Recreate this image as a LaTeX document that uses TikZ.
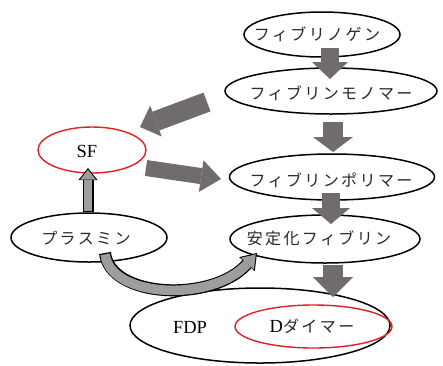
\documentclass[tikz,border=0pt]{standalone}
\usepackage{fontspec}
\setmainfont{Liberation Serif}
\newfontfamily\jp[LetterSpace=15]{Noto Sans CJK JP}
\usetikzlibrary{arrows.meta,shapes.geometric}
\definecolor{blkgray}{RGB}{112,108,107}
\definecolor{lgray}{RGB}{158,156,156}
\definecolor{redl}{RGB}{230,30,35}
\definecolor{txt}{RGB}{40,40,40}
\begin{document}
\begin{tikzpicture}[x=1pt,y=-1pt,
  ell/.style={draw=black, line width=1.5pt, ellipse, inner sep=0pt},
  rell/.style={draw=redl, line width=1.4pt, ellipse, inner sep=0pt},
  jtxt/.style={font=\jp\fontsize{16}{17}\selectfont, inner sep=0pt, text=txt},
  ltxt/.style={font=\fontsize{18.5}{20}\selectfont, inner sep=0pt},
  barrow/.style n args={3}{draw=blkgray, line width=#1, -{Triangle[width=#2, length=#3, line width=0pt]}},
]
\useasboundingbox (0,0) rectangle (443,365);
\fill[white] (0,0) rectangle (443,365);

% ellipses
\node[ell, minimum width=156pt, minimum height=45pt] (fg) at (322,34.5) {};
\node[ell, minimum width=212pt, minimum height=46pt] (mono) at (331,91) {};
\node[ell, minimum width=205pt, minimum height=46pt] (poly) at (332,177) {};
\node[ell, minimum width=190pt, minimum height=48pt] (stab) at (325,239) {};
\node[rell, minimum width=108pt, minimum height=46pt] (sf) at (92,150) {};
\node[ell, minimum width=156pt, minimum height=49pt] (pl) at (89,237.5) {};
\node[ell, minimum width=260pt, minimum height=75pt] (fdp) at (260,325.5) {};
\node[rell, minimum width=157pt, minimum height=43pt] (dd) at (313.5,326.5) {};

% texts
\node[jtxt] (fgt) at (317,34) {フィブリノゲン};
\node[jtxt] (monot) at (331,93) {フィブリンモノマー};
\node[jtxt] (polyt) at (331,180) {フィブリンポリマー};
\node[jtxt] (stabt) at (319,238) {安定化フィブリン};
\node[jtxt] (plt) at (86,238) {プラスミン};
\node[ltxt] (sft) at (87,151) {SF};
\node[ltxt] (fdpt) at (190,327) {FDP};
\node[inner sep=0pt] (ddt) at (312,326) {{\fontsize{18.5}{20}\selectfont D}{\jp\fontsize{16}{17}\selectfont\color{txt} ダイマー}};

% coordinates for block arrows
\coordinate (a1s) at (330,48);  \coordinate (a1e) at (330,79);
\coordinate (a2s) at (333,122); \coordinate (a2e) at (333,152);
\coordinate (a3s) at (331,193); \coordinate (a3e) at (331,224);
\coordinate (a4s) at (333,265); \coordinate (a4e) at (333,297);
\coordinate (a5s) at (207,102); \coordinate (a5e) at (140,127);
\coordinate (a6s) at (146,168); \coordinate (a6e) at (221,179);
\coordinate (a7s) at (88,212);  \coordinate (a7e) at (88,168);
\coordinate (a8s) at (105,253); \coordinate (a8e) at (257,253);

\draw[barrow={18pt}{36pt}{17pt}] (a1s) -- (a1e);
\draw[barrow={20pt}{40pt}{15pt}] (a2s) -- (a2e);
\draw[barrow={18pt}{38pt}{16pt}] (a3s) -- (a3e);
\draw[barrow={20pt}{40pt}{20pt}] (a4s) -- (a4e);
\draw[barrow={20pt}{33pt}{17pt}] (a5s) -- (a5e);
\draw[barrow={16pt}{32pt}{20pt}] (a6s) -- (a6e);

% outlined arrow plasmin -> SF
\draw[draw=black, line width=11pt, -{Triangle[width=19pt, length=12pt, line width=0pt]}] (a7s) -- (a7e);
\draw[draw=lgray, line width=8.6pt, shorten <=1.3pt, shorten >=1.7pt, -{Triangle[width=15.6pt, length=9.8pt, line width=0pt]}] (a7s) -- (a7e);

% curved outlined arrow plasmin -> stabilized fibrin
\draw[draw=black, line width=12pt, -{Triangle[width=21pt, length=15pt, line width=0pt]}] (a8s) .. controls (110,298) and (212,303) .. (a8e);
\draw[draw=lgray, line width=9.6pt, shorten <=1.3pt, shorten >=1.8pt, -{Triangle[width=17.6pt, length=12.5pt, line width=0pt]}] (a8s) .. controls (110,298) and (212,303) .. (a8e);
\end{tikzpicture}
\end{document}
